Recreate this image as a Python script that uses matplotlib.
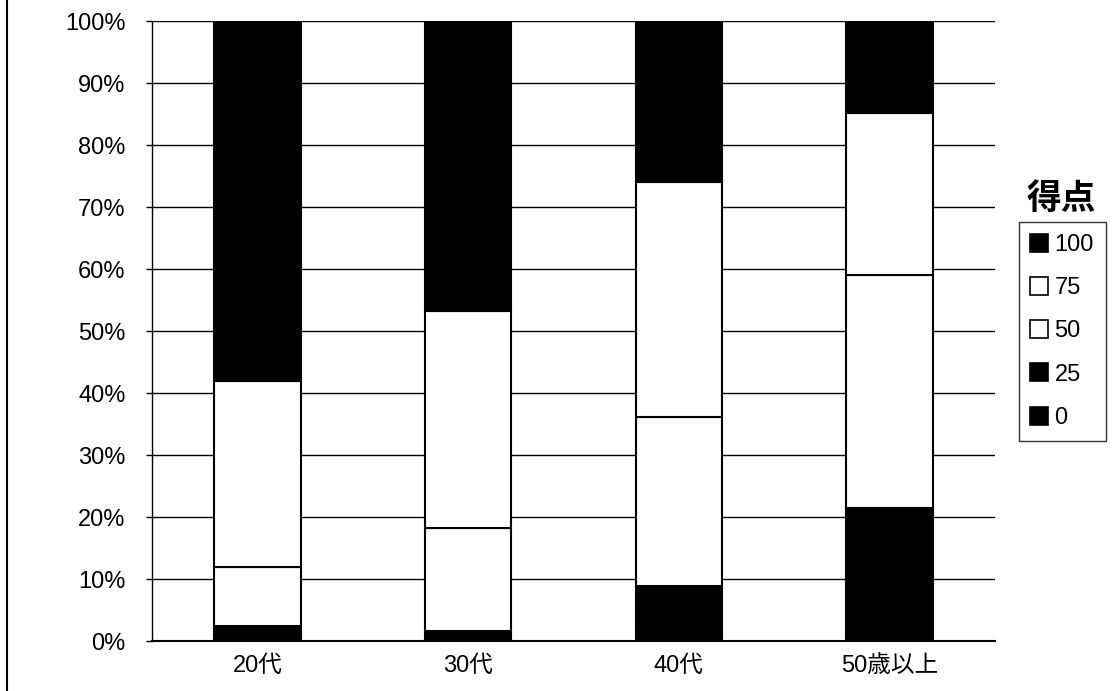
import matplotlib
matplotlib.use("Agg")
import matplotlib.pyplot as plt
from matplotlib.lines import Line2D
import numpy as np

FAM = ['Liberation Sans', 'Noto Sans CJK JP', 'DejaVu Sans']
plt.rcParams['font.family'] = FAM

categories = ['20代', '30代', '40代', '50歳以上']
series_names = ['0', '25', '50', '75', '100']
s0 = [1.0, 0.6, 4.0, 10.0]
s25 = [1.4, 1.0, 4.9, 11.5]
s50 = [9.5, 16.6, 27.2, 37.5]
s75 = [30.1, 35.0, 37.9, 26.2]
s100 = [58.0, 46.8, 26.0, 14.8]
series_values = [s0, s25, s50, s75, s100]
series_colors = ['black', 'black', 'white', 'white', 'black']
yticks = [0, 10, 20, 30, 40, 50, 60, 70, 80, 90, 100]
ytick_labels = [f'{v}%' for v in yticks]

fig = plt.figure(figsize=(11.14, 6.91), dpi=100)
ax = fig.add_axes([152/1114, 50/691, (995-152)/1114, 620/691])

x = np.arange(len(categories))
bottom = np.zeros(len(categories))
for vals, col in zip(series_values, series_colors):
    ax.bar(x, vals, bottom=bottom, width=0.41, color=col, edgecolor='black',
           linewidth=1.5, zorder=3)
    bottom += np.array(vals)

ax.set_xlim(-0.5, len(categories) - 0.5)
ax.set_ylim(0, 100)
ax.set_yticks(yticks)
ax.set_yticklabels(ytick_labels, fontsize=17)
ax.set_xticks(x)
ax.set_xticklabels(categories, fontsize=17)
ax.yaxis.grid(True, color='black', linewidth=1.0, zorder=0)
ax.set_axisbelow(True)
for s in ['top', 'right']:
    ax.spines[s].set_visible(False)
ax.spines['left'].set_linewidth(1.0)
ax.spines['bottom'].set_linewidth(1.5)
ax.tick_params(axis='y', length=4, width=1, pad=15)
ax.tick_params(axis='x', length=0, pad=10)

# legend
order = [4, 3, 2, 1, 0]
handles = [Line2D([0], [0], marker='s', linestyle='none', markersize=13,
                  markerfacecolor=series_colors[i], markeredgecolor='black',
                  markeredgewidth=1.2) for i in order]
labels = [series_names[i] for i in order]
leg = fig.legend(handles, labels, loc='upper left',
                 bbox_to_anchor=(1019/1114, 1 - 222/691),
                 prop={'size': 17, 'family': FAM},
                 frameon=True, fancybox=False, handlelength=0.7,
                 handletextpad=0.3, labelspacing=0.9, borderpad=0.5,
                 borderaxespad=0)
leg.get_frame().set_edgecolor('black')
leg.get_frame().set_linewidth(1.0)
fig.text(1061/1114, 1 - 198/691, '得点', fontsize=25, fontweight='bold',
         ha='center', va='center', family=['Noto Sans CJK JP', 'DejaVu Sans'])

# left border of the chart area
fig.add_artist(Line2D([7/1114, 7/1114], [0, 1], transform=fig.transFigure,
                      color='black', linewidth=1.5))

fig.savefig('out.png', dpi=100)
